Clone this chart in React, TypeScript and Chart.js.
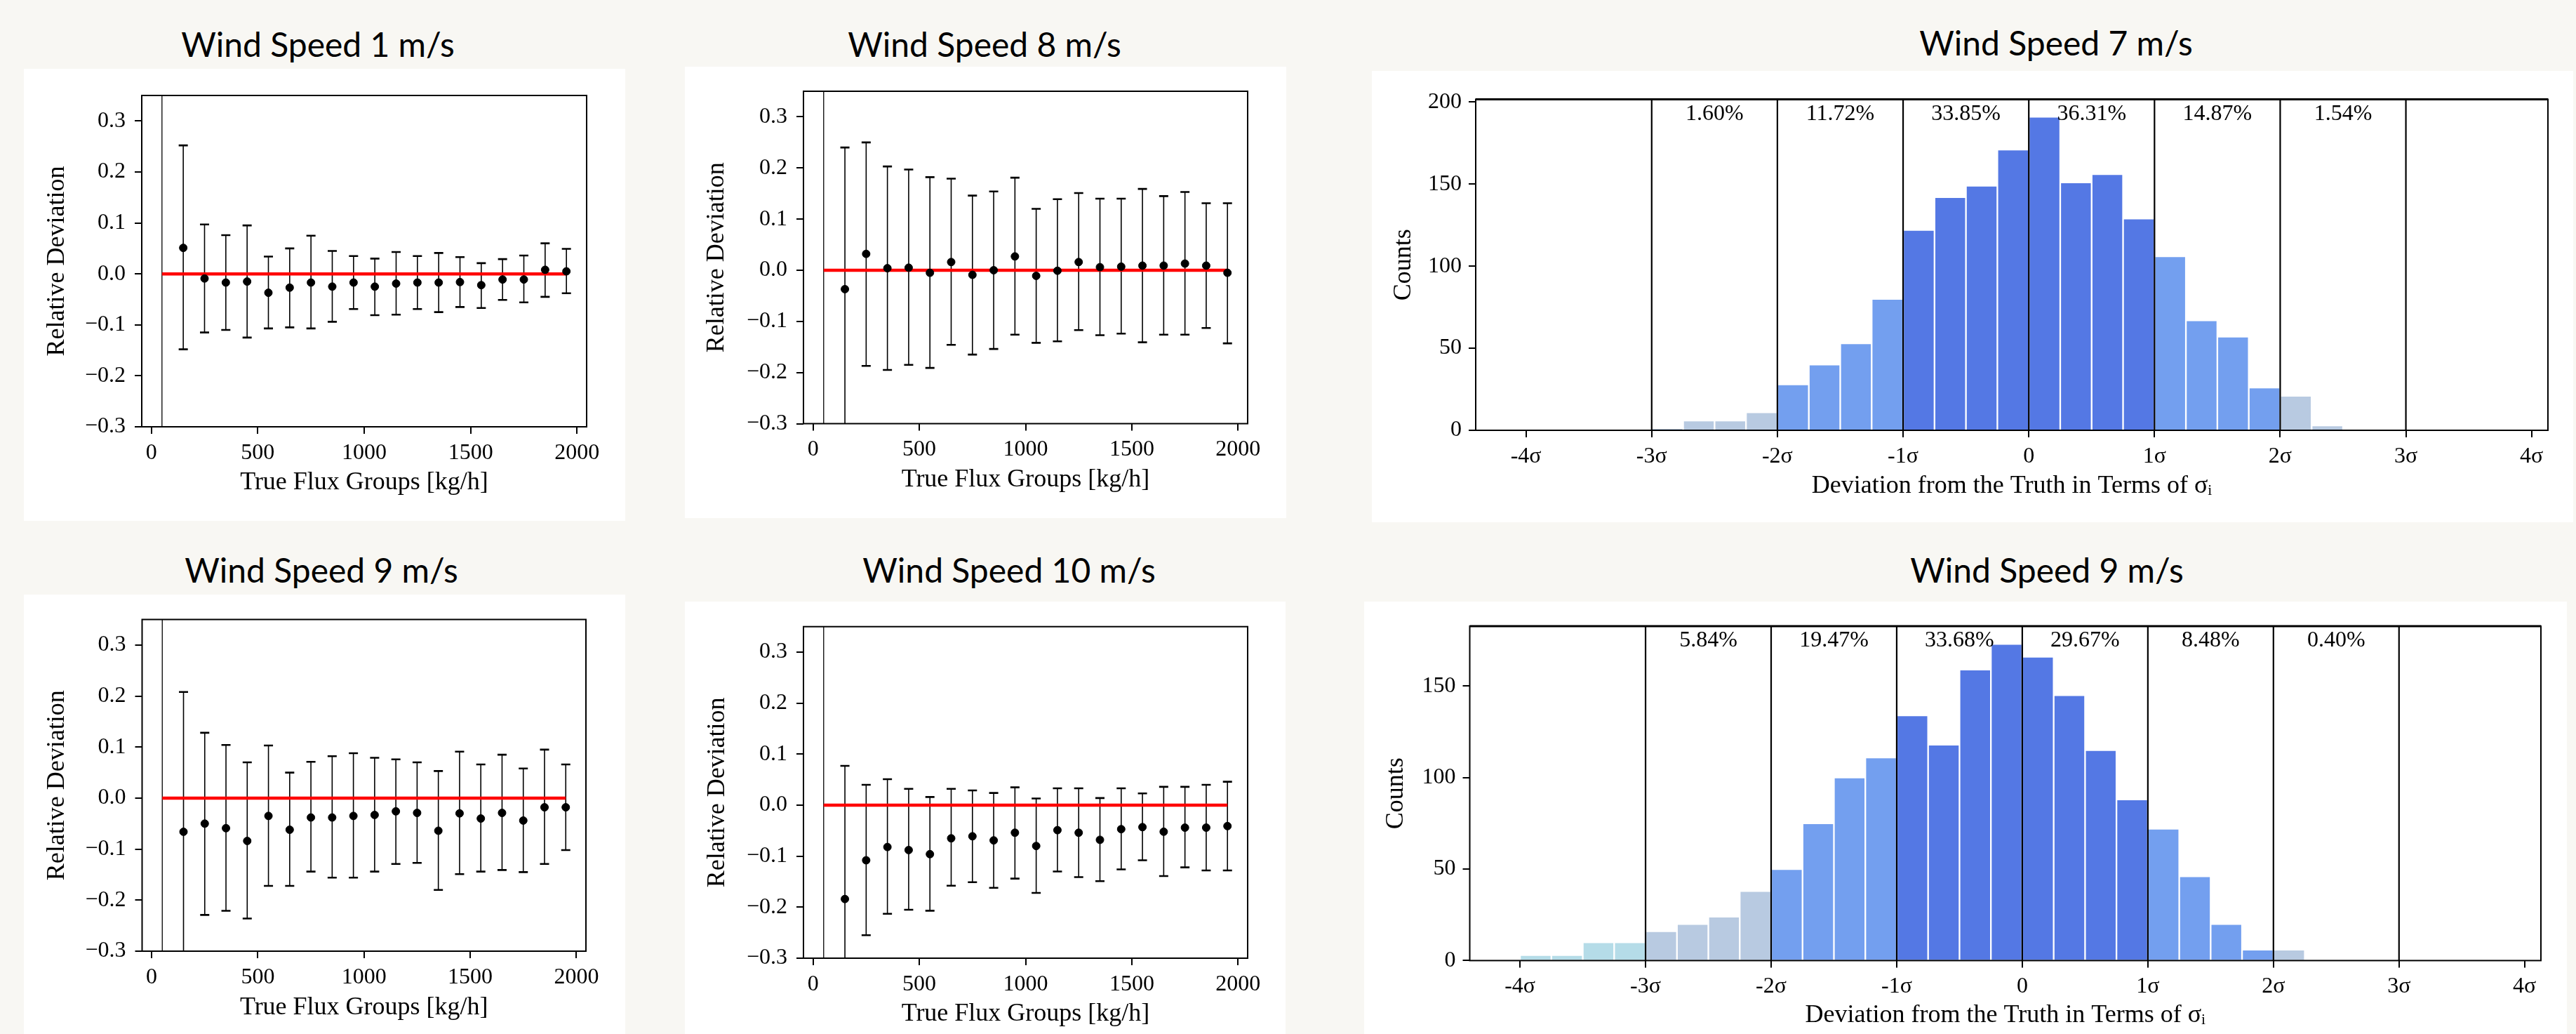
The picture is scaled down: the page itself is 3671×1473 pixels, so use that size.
import React, { useEffect, useRef } from 'react';
import { Chart, registerables } from 'chart.js';

Chart.register(...registerables);

// ---------------- data ----------------
const FLUX_GROUPS = [150, 250, 350, 450, 550, 650, 750, 850, 950, 1050, 1150, 1250, 1350, 1450, 1550, 1650, 1750, 1850, 1950];
const FLUX_X_TICKS = [0, 500, 1000, 1500, 2000];
const DEV_Y_TICKS = [-0.3, -0.2, -0.1, 0, 0.1, 0.2, 0.3];
const REF_LINE_X = [50, 1950];
const LEFT_MARK_X = 50;

const WS1_MEAN = [0.051, -0.009, -0.017, -0.015, -0.037, -0.027, -0.017, -0.025, -0.017, -0.025, -0.019, -0.017, -0.017, -0.016, -0.022, -0.011, -0.011, 0.008, 0.005];
const WS1_HIGH = [0.252, 0.097, 0.076, 0.095, 0.034, 0.05, 0.075, 0.045, 0.035, 0.03, 0.043, 0.035, 0.041, 0.033, 0.021, 0.029, 0.036, 0.06, 0.049];
const WS1_LOW = [-0.148, -0.115, -0.11, -0.125, -0.107, -0.105, -0.107, -0.094, -0.069, -0.081, -0.08, -0.069, -0.075, -0.065, -0.067, -0.051, -0.056, -0.045, -0.038];

const WS8_MEAN = [-0.037, 0.032, 0.004, 0.005, -0.005, 0.016, -0.009, 0.0, 0.027, -0.011, -0.001, 0.016, 0.006, 0.007, 0.009, 0.009, 0.013, 0.009, -0.005];
const WS8_HIGH = [0.24, 0.25, 0.203, 0.197, 0.182, 0.179, 0.146, 0.154, 0.181, 0.12, 0.139, 0.151, 0.14, 0.14, 0.159, 0.145, 0.153, 0.131, 0.131];
const WS8_LOW = [-0.314, -0.187, -0.195, -0.185, -0.191, -0.146, -0.165, -0.154, -0.126, -0.142, -0.139, -0.117, -0.127, -0.124, -0.141, -0.126, -0.126, -0.113, -0.143];

const WS9_MEAN = [-0.066, -0.05, -0.059, -0.084, -0.035, -0.062, -0.038, -0.038, -0.035, -0.033, -0.026, -0.029, -0.064, -0.03, -0.04, -0.029, -0.044, -0.018, -0.018];
const WS9_HIGH = [0.208, 0.128, 0.104, 0.07, 0.103, 0.05, 0.071, 0.082, 0.088, 0.079, 0.076, 0.07, 0.053, 0.091, 0.066, 0.085, 0.058, 0.095, 0.066];
const WS9_LOW = [-0.34, -0.229, -0.221, -0.236, -0.172, -0.172, -0.144, -0.156, -0.156, -0.144, -0.129, -0.127, -0.18, -0.149, -0.144, -0.141, -0.145, -0.129, -0.102];

const WS10_MEAN = [-0.184, -0.108, -0.082, -0.088, -0.096, -0.065, -0.061, -0.069, -0.054, -0.08, -0.049, -0.054, -0.068, -0.047, -0.043, -0.052, -0.044, -0.044, -0.041];
const WS10_HIGH = [0.077, 0.04, 0.051, 0.032, 0.016, 0.032, 0.029, 0.024, 0.035, 0.013, 0.033, 0.033, 0.014, 0.033, 0.023, 0.036, 0.036, 0.04, 0.046];
const WS10_LOW = [-0.445, -0.255, -0.213, -0.205, -0.207, -0.158, -0.151, -0.162, -0.144, -0.172, -0.13, -0.141, -0.149, -0.126, -0.108, -0.139, -0.122, -0.128, -0.128];

const SIGMA_TICKS = [-4, -3, -2, -1, 0, 1, 2, 3, 4];
const SIGMA_LINES = [-3, -2, -1, 0, 1, 2, 3];
const PCT_CENTERS = [-2.5, -1.5, -0.5, 0.5, 1.5, 2.5];

const HIST7_BINS = [-2.875, -2.625, -2.375, -2.125, -1.875, -1.625, -1.375, -1.125, -0.875, -0.625, -0.375, -0.125, 0.125, 0.375, 0.625, 0.875, 1.125, 1.375, 1.625, 1.875, 2.125, 2.375];
const HIST7_COUNTS = [1, 6, 6, 11, 28, 40, 53, 80, 122, 142, 149, 171, 191, 151, 156, 129, 106, 67, 57, 26, 21, 3];
const HIST7_PCT = ['1.60%', '11.72%', '33.85%', '36.31%', '14.87%', '1.54%'];
const HIST7_Y_TICKS = [0, 50, 100, 150, 200];

const HIST9_BINS = [-3.875, -3.625, -3.375, -3.125, -2.875, -2.625, -2.375, -2.125, -1.875, -1.625, -1.375, -1.125, -0.875, -0.625, -0.375, -0.125, 0.125, 0.375, 0.625, 0.875, 1.125, 1.375, 1.625, 1.875, 2.125];
const HIST9_COUNTS = [3, 3, 10, 10, 16, 20, 24, 38, 50, 75, 100, 111, 134, 118, 159, 173, 166, 145, 115, 88, 72, 46, 20, 6, 6];
const HIST9_PCT = ['5.84%', '19.47%', '33.68%', '29.67%', '8.48%', '0.40%'];
const HIST9_Y_TICKS = [0, 50, 100, 150];

// ---------------- styling ----------------
const SERIF = '"Liberation Serif", "DejaVu Serif", serif';
const TITLE_FONT = 'Lato, "Open Sans", sans-serif';
const FS = 32;
const TFS = 36;
const HALF_LINE = (TFS * 1.2) / 2;

function binColor(c: number) {
  const a = Math.abs(c);
  if (a < 1) return 'rgba(65,105,225,0.9)';
  if (a < 2) return 'rgba(100,149,237,0.9)';
  if (a < 3) return 'rgba(176,196,222,0.9)';
  return 'rgba(173,216,230,0.9)';
}

const framePlugin = {
  id: 'frame',
  afterDatasetsDraw(chart: any, _a: any, opts: any) {
    const { ctx, chartArea: ca } = chart;
    ctx.save();
    ctx.strokeStyle = '#000';
    ctx.lineWidth = 2;
    ctx.strokeRect(ca.left, ca.top, ca.right - ca.left, ca.bottom - ca.top);
    if (opts && opts.thickTop) {
      ctx.lineWidth = 3;
      ctx.beginPath();
      ctx.moveTo(ca.left, ca.top);
      ctx.lineTo(ca.right, ca.top);
      ctx.stroke();
    }
    ctx.restore();
  },
};

const errorBarPlugin = {
  id: 'errorBars',
  beforeDatasetsDraw(chart: any, _a: any, opts: any) {
    const { ctx, chartArea: ca, scales } = chart;
    const xs: number[] = opts.xs;
    const lo: number[] = opts.lo;
    const hi: number[] = opts.hi;
    ctx.save();
    ctx.beginPath();
    ctx.rect(ca.left, ca.top, ca.right - ca.left, ca.bottom - ca.top);
    ctx.clip();
    ctx.strokeStyle = '#000';
    for (let i = 0; i < xs.length; i++) {
      const x = scales.x.getPixelForValue(xs[i]);
      const yl = scales.y.getPixelForValue(lo[i]);
      const yh = scales.y.getPixelForValue(hi[i]);
      ctx.lineWidth = 1.6;
      ctx.beginPath();
      ctx.moveTo(x, yl);
      ctx.lineTo(x, yh);
      ctx.stroke();
      ctx.lineWidth = 2.6;
      ctx.beginPath();
      ctx.moveTo(x - 6.5, yl);
      ctx.lineTo(x + 6.5, yl);
      ctx.moveTo(x - 6.5, yh);
      ctx.lineTo(x + 6.5, yh);
      ctx.stroke();
    }
    ctx.restore();
  },
};

const sigmaPlugin = {
  id: 'sigmaLines',
  afterDatasetsDraw(chart: any, _a: any, opts: any) {
    const { ctx, chartArea: ca, scales } = chart;
    ctx.save();
    ctx.strokeStyle = '#000';
    ctx.lineWidth = 2.2;
    for (const v of opts.lines as number[]) {
      const x = scales.x.getPixelForValue(v);
      ctx.beginPath();
      ctx.moveTo(x, ca.top);
      ctx.lineTo(x, ca.bottom);
      ctx.stroke();
    }
    ctx.fillStyle = '#000';
    ctx.font = `32px ${SERIF}`;
    ctx.textAlign = 'center';
    ctx.textBaseline = 'alphabetic';
    const centers: number[] = opts.centers;
    const labels: string[] = opts.labels;
    for (let i = 0; i < centers.length; i++) {
      const x = scales.x.getPixelForValue(centers[i]);
      ctx.fillText(labels[i], x, ca.top + 29);
    }
    ctx.restore();
  },
};

function fmtDev(v: number) {
  const s = Math.abs(v).toFixed(1);
  return v < -1e-9 ? '\u2212' + s : s;
}

type Geo = {
  yW: number;
  xH: number;
  padTop: number;
  padRight: number;
  xTitleOff: number;
  yTitleOff: number;
};

function axisCommon() {
  return {
    grid: { display: true, drawOnChartArea: false, drawTicks: true, tickLength: 10, lineWidth: 2, tickWidth: 2, color: '#000', tickColor: '#000' },
    border: { display: false },
  };
}

function scatterConfig(mean: number[], lo: number[], hi: number[], g: Geo): any {
  return {
    type: 'scatter',
    data: {
      datasets: [
        {
          label: 'mean',
          data: FLUX_GROUPS.map((x, i) => ({ x, y: mean[i] })),
          backgroundColor: '#000',
          borderColor: '#000',
          pointRadius: 5.5,
          pointHoverRadius: 5.5,
          order: 0,
        },
        {
          label: 'zero',
          data: REF_LINE_X.map((x) => ({ x, y: 0 })),
          showLine: true,
          borderColor: '#ff0000',
          borderWidth: 4.5,
          pointRadius: 0,
          order: 1,
        },
        {
          label: 'mark',
          data: [
            { x: LEFT_MARK_X, y: -0.3 },
            { x: LEFT_MARK_X, y: 0.35 },
          ],
          showLine: true,
          borderColor: '#000',
          borderWidth: 1.3,
          pointRadius: 0,
          order: 2,
        },
      ],
    },
    plugins: [errorBarPlugin, framePlugin],
    options: {
      animation: false,
      responsive: false,
      devicePixelRatio: 1,
      layout: { padding: { top: g.padTop, right: g.padRight, left: 0, bottom: 0 } },
      plugins: {
        legend: { display: false },
        tooltip: { enabled: false },
        errorBars: { xs: FLUX_GROUPS, lo, hi },
      },
      scales: {
        x: {
          type: 'linear',
          min: -45,
          max: 2045,
          ...axisCommon(),
          afterBuildTicks: (s: any) => {
            s.ticks = FLUX_X_TICKS.map((v) => ({ value: v }));
          },
          afterFit: (s: any) => {
            s.height = g.xH;
          },
          ticks: {
            autoSkip: false,
            maxRotation: 0,
            padding: 8,
            color: '#000',
            font: { family: SERIF, size: FS },
            callback: (v: any) => String(v),
          },
          title: {
            display: true,
            text: 'True Flux Groups [kg/h]',
            color: '#000',
            font: { family: SERIF, size: TFS },
            padding: { top: 0, bottom: g.xTitleOff - HALF_LINE },
          },
        },
        y: {
          type: 'linear',
          min: -0.3,
          max: 0.35,
          ...axisCommon(),
          afterBuildTicks: (s: any) => {
            s.ticks = DEV_Y_TICKS.map((v) => ({ value: v }));
          },
          afterFit: (s: any) => {
            s.width = g.yW;
          },
          ticks: {
            autoSkip: false,
            padding: 13,
            color: '#000',
            font: { family: SERIF, size: FS },
            callback: (v: any) => fmtDev(Number(v)),
          },
          title: {
            display: true,
            text: 'Relative Deviation',
            color: '#000',
            font: { family: SERIF, size: TFS },
            padding: { top: g.yTitleOff - HALF_LINE, bottom: 0 },
          },
        },
      },
    },
  };
}

function histConfig(bins: number[], counts: number[], pct: string[], yTicks: number[], yMax: number, g: Geo): any {
  return {
    type: 'bar',
    data: {
      datasets: [
        {
          label: 'counts',
          data: bins.map((x, i) => ({ x, y: counts[i] })),
          backgroundColor: bins.map(binColor),
          borderColor: '#ffffff',
          borderWidth: 1.5,
          borderSkipped: 'bottom',
          barPercentage: 1,
          categoryPercentage: 1,
        },
      ],
    },
    plugins: [sigmaPlugin, framePlugin],
    options: {
      animation: false,
      responsive: false,
      devicePixelRatio: 1,
      layout: { padding: { top: g.padTop, right: g.padRight, left: 0, bottom: 0 } },
      plugins: {
        legend: { display: false },
        tooltip: { enabled: false },
        sigmaLines: { lines: SIGMA_LINES, centers: PCT_CENTERS, labels: pct },
        frame: { thickTop: true },
      },
      scales: {
        x: {
          type: 'linear',
          min: -4.4,
          max: 4.13,
          offset: false,
          ...axisCommon(),
          grid: { ...axisCommon().grid, offset: false },
          afterBuildTicks: (s: any) => {
            s.ticks = SIGMA_TICKS.map((v) => ({ value: v }));
          },
          afterFit: (s: any) => {
            s.height = g.xH;
          },
          ticks: {
            autoSkip: false,
            maxRotation: 0,
            padding: 8,
            color: '#000',
            font: { family: SERIF, size: FS },
            callback: (v: any) => (Number(v) === 0 ? '0' : `${v}\u03c3`),
          },
          title: {
            display: true,
            text: 'Deviation from the Truth in Terms of \u03c3\u1d62',
            color: '#000',
            font: { family: SERIF, size: TFS },
            padding: { top: 0, bottom: g.xTitleOff - HALF_LINE },
          },
        },
        y: {
          type: 'linear',
          min: 0,
          max: yMax,
          ...axisCommon(),
          afterBuildTicks: (s: any) => {
            s.ticks = yTicks.map((v) => ({ value: v }));
          },
          afterFit: (s: any) => {
            s.width = g.yW;
          },
          ticks: {
            autoSkip: false,
            padding: 10,
            color: '#000',
            font: { family: SERIF, size: FS },
            callback: (v: any) => String(v),
          },
          title: {
            display: true,
            text: 'Counts',
            color: '#000',
            font: { family: SERIF, size: TFS },
            padding: { top: g.yTitleOff - HALF_LINE, bottom: 0 },
          },
        },
      },
    },
  };
}

function ChartBox(props: { left: number; top: number; width: number; height: number; make: () => any }) {
  const ref = useRef<HTMLCanvasElement>(null);
  useEffect(() => {
    const chart = new Chart(ref.current as HTMLCanvasElement, props.make());
    return () => chart.destroy();
  }, []);
  return (
    <canvas
      ref={ref}
      width={props.width}
      height={props.height}
      style={{ position: 'absolute', left: props.left, top: props.top, width: props.width, height: props.height, background: '#ffffff' }}
    />
  );
}

function Title(props: { cx: number; cy: number; text: string }) {
  return (
    <div
      style={{
        position: 'absolute',
        left: props.cx,
        top: props.cy,
        transform: 'translate(-50%, -50%)',
        fontFamily: TITLE_FONT,
        fontSize: 48,
        lineHeight: 1,
        color: '#000',
        whiteSpace: 'nowrap',
      }}
    >
      {props.text}
    </div>
  );
}

export default function App() {
  useEffect(() => {
    document.body.style.margin = '0';
    document.body.style.overflow = 'hidden';
  }, []);
  return (
    <div style={{ position: 'absolute', left: 0, top: 0, width: 3671, height: 1473, background: '#f8f7f3', overflow: 'hidden' }}>
      <Title cx={453} cy={63} text="Wind Speed 1 m/s" />
      <Title cx={1403} cy={63} text="Wind Speed 8 m/s" />
      <Title cx={2930} cy={61} text="Wind Speed 7 m/s" />
      <Title cx={458} cy={812} text="Wind Speed 9 m/s" />
      <Title cx={1438} cy={812} text="Wind Speed 10 m/s" />
      <Title cx={2917} cy={812} text="Wind Speed 9 m/s" />

      <ChartBox left={34} top={98} width={857} height={644}
        make={() => scatterConfig(WS1_MEAN, WS1_LOW, WS1_HIGH, { yW: 168, xH: 134, padTop: 38, padRight: 55, xTitleOff: 54, yTitleOff: 48 })} />
      <ChartBox left={976} top={95} width={857} height={643}
        make={() => scatterConfig(WS8_MEAN, WS8_LOW, WS8_HIGH, { yW: 169, xH: 134.5, padTop: 35, padRight: 55, xTitleOff: 54.5, yTitleOff: 46 })} />
      <ChartBox left={34} top={847} width={857} height={626}
        make={() => scatterConfig(WS9_MEAN, WS9_LOW, WS9_HIGH, { yW: 168.5, xH: 118, padTop: 35.5, padRight: 56, xTitleOff: 37, yTitleOff: 48 })} />
      <ChartBox left={976} top={857} width={856} height={616}
        make={() => scatterConfig(WS10_MEAN, WS10_LOW, WS10_HIGH, { yW: 169, xH: 108, padTop: 35.7, padRight: 54, xTitleOff: 28, yTitleOff: 47 })} />

      <ChartBox left={1955} top={101} width={1712} height={643}
        make={() => histConfig(HIST7_BINS, HIST7_COUNTS, HIST7_PCT, HIST7_Y_TICKS, 201.6, { yW: 148, xH: 131, padTop: 40.5, padRight: 36, xTitleOff: 51, yTitleOff: 46 })} />
      <ChartBox left={1944} top={857} width={1714} height={616}
        make={() => histConfig(HIST9_BINS, HIST9_COUNTS, HIST9_PCT, HIST9_Y_TICKS, 182.7, { yW: 150.5, xH: 104.6, padTop: 35, padRight: 37, xTitleOff: 26, yTitleOff: 46 })} />
    </div>
  );
}
